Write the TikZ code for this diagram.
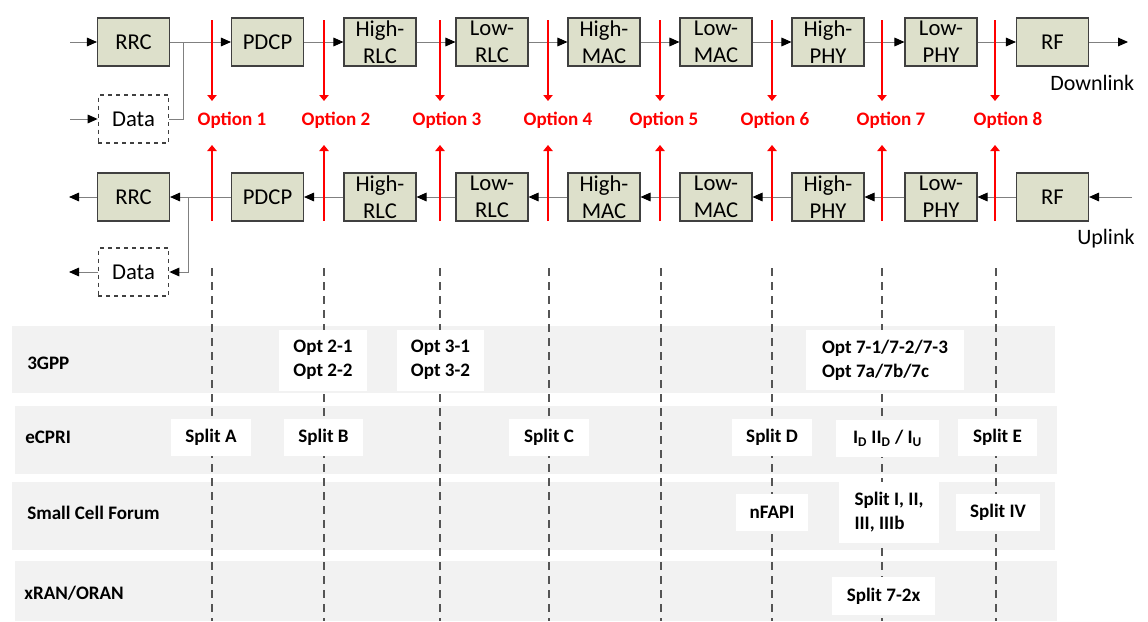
\documentclass[tikz,border=0pt]{standalone}
\usepackage{fontspec}
\setmainfont{Carlito}
\usetikzlibrary{arrows.meta}
\definecolor{boxfill}{RGB}{221,224,203}
\definecolor{boxline}{RGB}{64,64,64}
\definecolor{conncol}{RGB}{128,128,128}
\definecolor{rowgray}{RGB}{242,242,242}
\definecolor{dashgray}{RGB}{85,85,85}
\definecolor{optred}{RGB}{255,0,0}
\begin{document}
\begin{tikzpicture}[x=0.75pt,y=-0.75pt,
  blk/.style={draw=boxline,fill=boxfill,line width=0.8pt,minimum width=54pt,minimum height=36pt,inner sep=0pt,align=center,font=\fontsize{17}{20}\selectfont},
  databox/.style={draw=boxline,fill=white,dashed,line width=0.8pt,minimum width=53pt,minimum height=36pt,inner sep=0pt,font=\fontsize{17}{20}\selectfont},
  conn/.style={draw=conncol,line width=0.75pt,-{Triangle[length=7.5pt,width=6.5pt,color=black]}},
  connplain/.style={draw=conncol,line width=0.75pt},
  redarrow/.style={draw=optred,line width=1.5pt,-{Triangle[length=4.5pt,width=7pt]}},
  optlabel/.style={text=optred,font=\bfseries\fontsize{14.3}{17}\selectfont,anchor=base,inner sep=0pt},
  dashline/.style={draw=dashgray,line width=1.4pt,dash pattern=on 6pt off 4.5pt},
  rowlabel/.style={font=\bfseries\fontsize{14.3}{17}\selectfont,anchor=base west,inner sep=0pt},
  wbox/.style={fill=white,inner sep=0pt,font=\bfseries\fontsize{14.3}{18}\selectfont,align=left},
  dirlabel/.style={font=\fontsize{16.5}{20}\selectfont,anchor=base west,inner sep=0pt}
]
\useasboundingbox (0,0) rectangle (1148,621);

% table rows
\fill[rowgray] (12,326) rectangle (1055,393);
\fill[rowgray] (15,406) rectangle (1057,474);
\fill[rowgray] (12,482) rectangle (1055,550);
\fill[rowgray] (15,561) rectangle (1057,621);

\node[rowlabel] (l3gpp) at (27,369) {3GPP};
\node[rowlabel] (lecpri) at (25,443) {eCPRI};
\node[rowlabel] (lscf) at (27,519) {Small Cell Forum};
\node[rowlabel] (lxran) at (24,599) {xRAN/ORAN};

% dashed split lines
\foreach \i/\x in {1/212,2/324,3/440,4/549,5/661,6/772,7/882,8/996}{
  \coordinate (vt\i) at (\x,268);
  \coordinate (vb\i) at (\x,621);
  \draw[dashline] (vt\i) -- (vb\i);
}

% white label boxes
\node[wbox,minimum width=66pt,minimum height=45.75pt] (o2) at (323,360) {Opt 2-1\\Opt 2-2};
\node[wbox,minimum width=65.25pt,minimum height=45.75pt] (o3) at (440.5,360) {Opt 3-1\\Opt 3-2};
\node[wbox,minimum width=118.5pt,minimum height=45pt] (o7) at (885,360) {Opt 7-1/7-2/7-3\\Opt 7a/7b/7c};
\node[wbox,minimum width=60pt,minimum height=27.75pt,align=center] (sa) at (211,437.5) {Split A};
\node[wbox,minimum width=59.25pt,minimum height=27.75pt,align=center] (sb) at (323.5,437.5) {Split B};
\node[wbox,minimum width=60pt,minimum height=27.75pt,align=center] (sc) at (549,437.5) {Split C};
\node[wbox,minimum width=60pt,minimum height=27.75pt,align=center] (sd) at (772,437.5) {Split D};
\node[wbox,minimum width=77.25pt,minimum height=27.75pt,align=center] (sid) at (887.5,438) {I\textsubscript{D} II\textsubscript{D} / I\textsubscript{U}};
\node[wbox,minimum width=59.25pt,minimum height=27.75pt,align=center] (se) at (997.5,437.5) {Split E};
\node[wbox,minimum width=54pt,minimum height=27.75pt,align=center] (nf) at (772,512.5) {nFAPI};
\node[wbox,minimum width=75pt,minimum height=45.75pt] (s123) at (889,512.5) {Split I, II,\\III, IIIb};
\node[wbox,minimum width=63pt,minimum height=27.75pt,align=center] (s4) at (998,512.5) {Split IV};
\node[wbox,minimum width=77.25pt,minimum height=28.5pt,align=center] (s72) at (883.5,596) {Split 7-2x};

% downlink chain
\node[blk] (rrcD) at (133.5,42) {RRC};
\node[blk] (pdcpD) at (267.5,42) {PDCP};
\node[blk] (hrlcD) at (380,42) {High-\\RLC};
\node[blk] (lrlcD) at (492,42) {Low-\\RLC};
\node[blk] (hmacD) at (604,42) {High-\\MAC};
\node[blk] (lmacD) at (716,42) {Low-\\MAC};
\node[blk] (hphyD) at (828,42) {High-\\PHY};
\node[blk] (lphyD) at (941,42) {Low-\\PHY};
\node[blk] (rfD) at (1052.5,42) {RF};
\node[databox] (dataD) at (133.5,119) {Data};

\coordinate (inD) at (70,42);
\coordinate (inDataD) at (70,119);
\coordinate (jD) at (183,42);
\coordinate (outD) at (1128,42);
\draw[conn] (inD) -- (rrcD.west);
\draw[conn] (inDataD) -- (dataD.west);
\draw[conn] (rrcD.east) -- (pdcpD.west);
\draw[connplain] (dataD.east) -| (jD);
\draw[conn] (pdcpD.east) -- (hrlcD.west);
\draw[conn] (hrlcD.east) -- (lrlcD.west);
\draw[conn] (lrlcD.east) -- (hmacD.west);
\draw[conn] (hmacD.east) -- (lmacD.west);
\draw[conn] (lmacD.east) -- (hphyD.west);
\draw[conn] (hphyD.east) -- (lphyD.west);
\draw[conn] (lphyD.east) -- (rfD.west);
\draw[conn] (rfD.east) -- (outD);
\node[dirlabel] (dl) at (1050,90) {Downlink};

% uplink chain
\node[blk] (rrcU) at (133.5,197) {RRC};
\node[blk] (pdcpU) at (267.5,197) {PDCP};
\node[blk] (hrlcU) at (380,197) {High-\\RLC};
\node[blk] (lrlcU) at (492,197) {Low-\\RLC};
\node[blk] (hmacU) at (604,197) {High-\\MAC};
\node[blk] (lmacU) at (716,197) {Low-\\MAC};
\node[blk] (hphyU) at (828,197) {High-\\PHY};
\node[blk] (lphyU) at (941,197) {Low-\\PHY};
\node[blk] (rfU) at (1052.5,197) {RF};
\node[databox] (dataU) at (133.5,272) {Data};

\coordinate (outU) at (69,197);
\coordinate (outDataU) at (69,272);
\coordinate (jU) at (188,197);
\coordinate (inU) at (1132,197);
\draw[conn] (rrcU.west) -- (outU);
\draw[conn] (dataU.west) -- (outDataU);
\draw[conn] (pdcpU.west) -- (rrcU.east);
\draw[conn] (jU) |- (dataU.east);
\draw[conn] (hrlcU.west) -- (pdcpU.east);
\draw[conn] (lrlcU.west) -- (hrlcU.east);
\draw[conn] (hmacU.west) -- (lrlcU.east);
\draw[conn] (lmacU.west) -- (hmacU.east);
\draw[conn] (hphyU.west) -- (lmacU.east);
\draw[conn] (lphyU.west) -- (hphyU.east);
\draw[conn] (rfU.west) -- (lphyU.east);
\draw[conn] (inU) -- (rfU.east);
\node[dirlabel] (ul) at (1077,244) {Uplink};

% option arrows and labels
\foreach \i/\x/\lx in {1/212/232,2/324/336,3/440/447,4/548/558,5/660/664,6/772/775,7/882/891,8/995/1008}{
  \coordinate (rt\i) at (\x,20);
  \coordinate (rb\i) at (\x,101);
  \coordinate (ut\i) at (\x,145);
  \coordinate (ub\i) at (\x,221);
  \draw[redarrow] (rt\i) -- (rb\i);
  \draw[redarrow] (ub\i) -- (ut\i);
  \node[optlabel] (opt\i) at (\lx,125) {Option \i};
}
\end{tikzpicture}
\end{document}
